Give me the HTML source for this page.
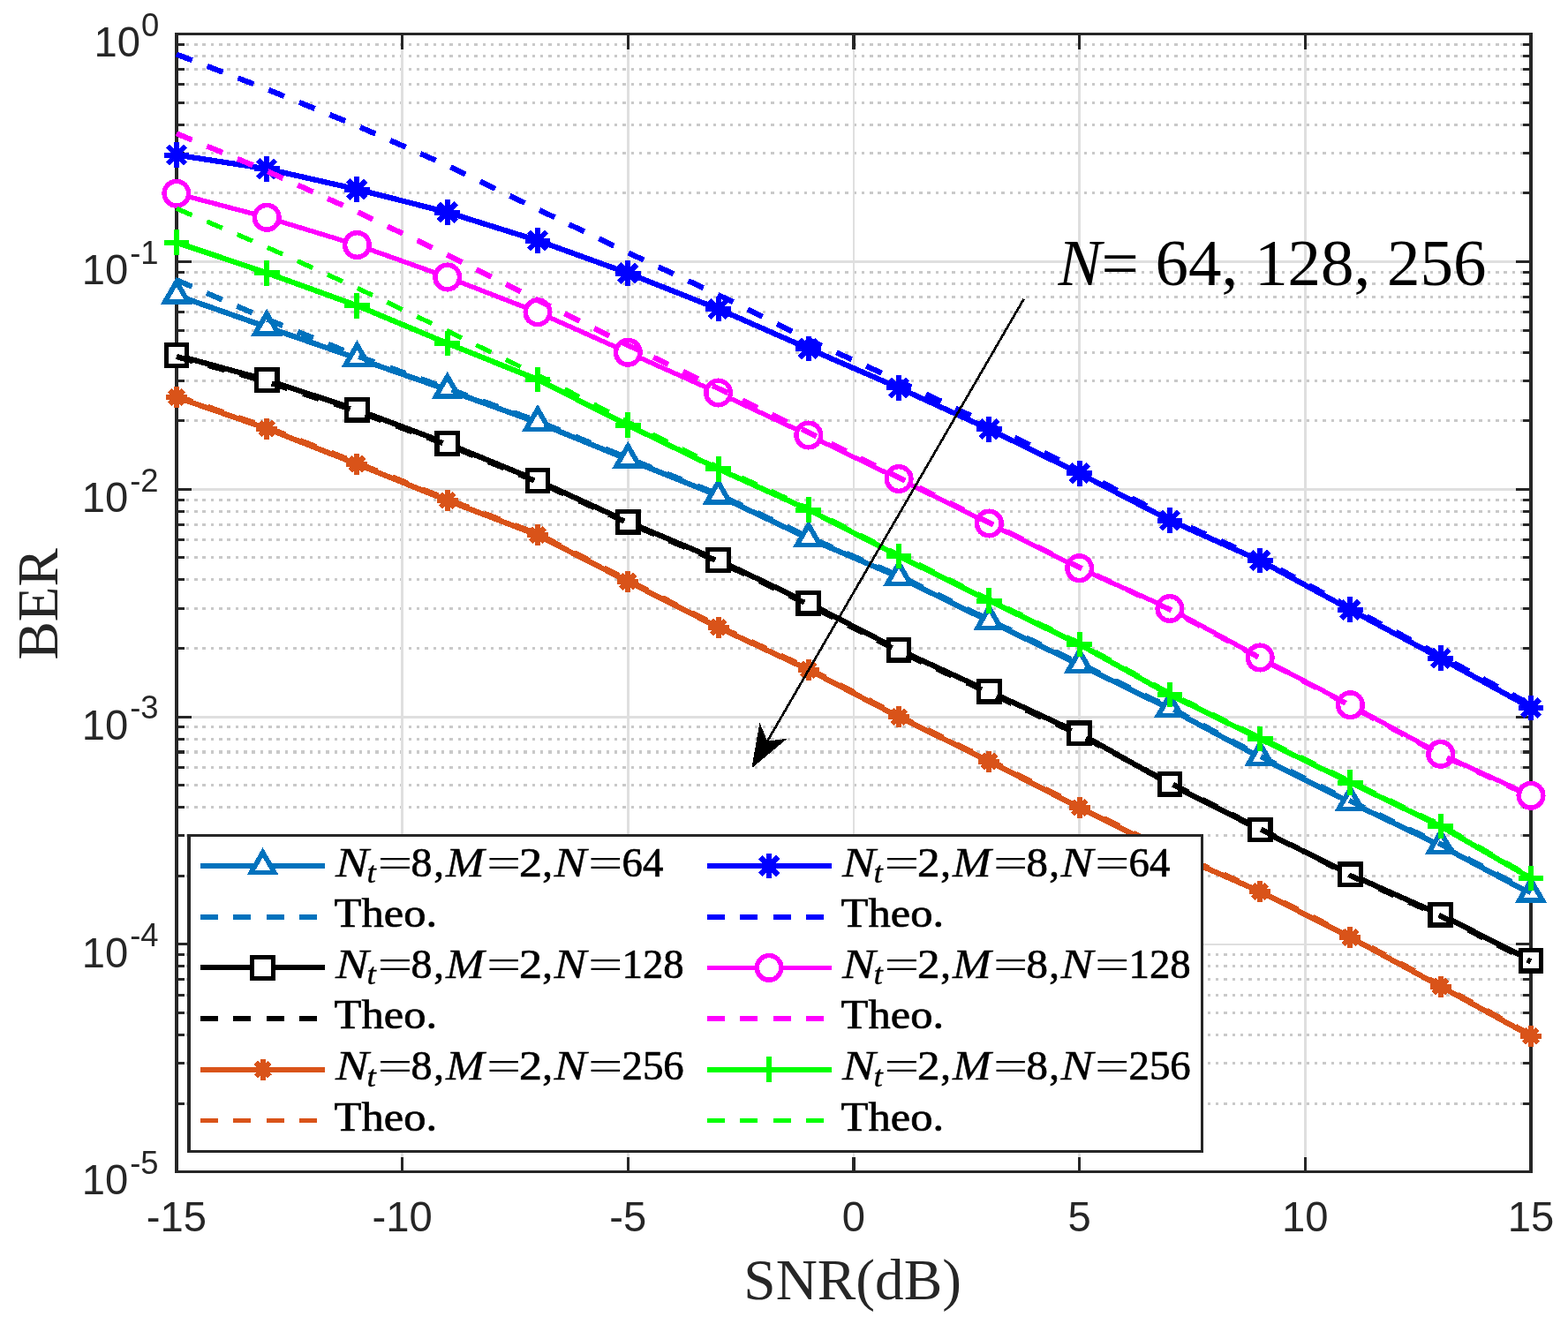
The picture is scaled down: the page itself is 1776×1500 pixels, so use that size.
<!DOCTYPE html>
<html lang="en"><head><meta charset="utf-8"><title>BER versus SNR</title>
<style>html,body{margin:0;padding:0;background:#fff}body{width:1776px;height:1500px;overflow:hidden}svg{display:block}</style>
</head><body>
<svg width="1776" height="1500" viewBox="0 0 1776 1500" shape-rendering="crispEdges">
<rect width="1776" height="1500" fill="#fff"/>
<path d="M199.9 218.89H1734M199.9 173.5H1734M199.9 141.29H1734M199.9 116.31H1734M199.9 95.89H1734M199.9 78.63H1734M199.9 63.68H1734M199.9 50.5H1734M199.9 476.69H1734M199.9 431.3H1734M199.9 399.09H1734M199.9 374.11H1734M199.9 353.69H1734M199.9 336.43H1734M199.9 321.48H1734M199.9 308.3H1734M199.9 734.49H1734M199.9 689.1H1734M199.9 656.89H1734M199.9 631.91H1734M199.9 611.49H1734M199.9 594.23H1734M199.9 579.28H1734M199.9 566.1H1734M199.9 992.29H1734M199.9 946.9H1734M199.9 914.69H1734M199.9 889.71H1734M199.9 869.29H1734M199.9 852.03H1734M199.9 837.08H1734M199.9 823.9H1734M199.9 1250.09H1734M199.9 1204.7H1734M199.9 1172.49H1734M199.9 1147.51H1734M199.9 1127.09H1734M199.9 1109.83H1734M199.9 1094.88H1734M199.9 1081.7H1734" stroke="#C9C9C9" stroke-width="3.1" stroke-dasharray="3.4 5.929" stroke-dashoffset="-1.6" fill="none"/>
<path d="M199.9 296.5H1734M199.9 554.3H1734M199.9 812.1H1734M199.9 1069.9H1734M455.58 38.7V1327.7M711.27 38.7V1327.7M966.95 38.7V1327.7M1222.63 38.7V1327.7M1478.32 38.7V1327.7" stroke="#DFDFDF" stroke-width="2.8" fill="none"/>
<path d="M455.58 1327.7v-17M455.58 38.7v17M711.27 1327.7v-17M711.27 38.7v17M966.95 1327.7v-17M966.95 38.7v17M1222.63 1327.7v-17M1222.63 38.7v17M1478.32 1327.7v-17M1478.32 38.7v17M199.9 296.5h17M1734 296.5h-17M199.9 554.3h17M1734 554.3h-17M199.9 812.1h17M1734 812.1h-17M199.9 1069.9h17M1734 1069.9h-17M199.9 218.89h9M1734 218.89h-9M199.9 173.5h9M1734 173.5h-9M199.9 141.29h9M1734 141.29h-9M199.9 116.31h9M1734 116.31h-9M199.9 95.89h9M1734 95.89h-9M199.9 78.63h9M1734 78.63h-9M199.9 63.68h9M1734 63.68h-9M199.9 50.5h9M1734 50.5h-9M199.9 476.69h9M1734 476.69h-9M199.9 431.3h9M1734 431.3h-9M199.9 399.09h9M1734 399.09h-9M199.9 374.11h9M1734 374.11h-9M199.9 353.69h9M1734 353.69h-9M199.9 336.43h9M1734 336.43h-9M199.9 321.48h9M1734 321.48h-9M199.9 308.3h9M1734 308.3h-9M199.9 734.49h9M1734 734.49h-9M199.9 689.1h9M1734 689.1h-9M199.9 656.89h9M1734 656.89h-9M199.9 631.91h9M1734 631.91h-9M199.9 611.49h9M1734 611.49h-9M199.9 594.23h9M1734 594.23h-9M199.9 579.28h9M1734 579.28h-9M199.9 566.1h9M1734 566.1h-9M199.9 992.29h9M1734 992.29h-9M199.9 946.9h9M1734 946.9h-9M199.9 914.69h9M1734 914.69h-9M199.9 889.71h9M1734 889.71h-9M199.9 869.29h9M1734 869.29h-9M199.9 852.03h9M1734 852.03h-9M199.9 837.08h9M1734 837.08h-9M199.9 823.9h9M1734 823.9h-9M199.9 1250.09h9M1734 1250.09h-9M199.9 1204.7h9M1734 1204.7h-9M199.9 1172.49h9M1734 1172.49h-9M199.9 1147.51h9M1734 1147.51h-9M199.9 1127.09h9M1734 1127.09h-9M199.9 1109.83h9M1734 1109.83h-9M199.9 1094.88h9M1734 1094.88h-9M199.9 1081.7h9M1734 1081.7h-9" stroke="#262626" stroke-width="3.1" fill="none"/>
<path d="M198 38.7H1735.9M198 1327.7H1735.9" fill="none" stroke="#262626" stroke-width="3.4"/>
<path d="M199.9 38.7V1327.7M1734 38.7V1327.7" fill="none" stroke="#262626" stroke-width="3.8"/>
<polyline points="199.9,334.5 302.17,370.5 404.45,406 506.72,441.7 608.99,478.75 711.27,520.5 813.54,561.5 915.81,610 1018.09,653.75 1120.36,703.75 1222.63,753 1324.91,803 1427.18,858 1529.45,909 1631.73,958 1734,1012.5" fill="none" stroke="#0072BD" stroke-width="6.2" stroke-linejoin="round"/>
<polygon points="199.9,319.26 186.7,342.12 213.1,342.12" fill="#fff" stroke="#0072BD" stroke-width="5.7" stroke-linejoin="miter"/><polygon points="302.17,355.26 288.97,378.12 315.37,378.12" fill="#fff" stroke="#0072BD" stroke-width="5.7" stroke-linejoin="miter"/><polygon points="404.45,390.76 391.25,413.62 417.65,413.62" fill="#fff" stroke="#0072BD" stroke-width="5.7" stroke-linejoin="miter"/><polygon points="506.72,426.46 493.52,449.32 519.92,449.32" fill="#fff" stroke="#0072BD" stroke-width="5.7" stroke-linejoin="miter"/><polygon points="608.99,463.51 595.79,486.37 622.19,486.37" fill="#fff" stroke="#0072BD" stroke-width="5.7" stroke-linejoin="miter"/><polygon points="711.27,505.26 698.07,528.12 724.47,528.12" fill="#fff" stroke="#0072BD" stroke-width="5.7" stroke-linejoin="miter"/><polygon points="813.54,546.26 800.34,569.12 826.74,569.12" fill="#fff" stroke="#0072BD" stroke-width="5.7" stroke-linejoin="miter"/><polygon points="915.81,594.76 902.61,617.62 929.01,617.62" fill="#fff" stroke="#0072BD" stroke-width="5.7" stroke-linejoin="miter"/><polygon points="1018.09,638.51 1004.89,661.37 1031.29,661.37" fill="#fff" stroke="#0072BD" stroke-width="5.7" stroke-linejoin="miter"/><polygon points="1120.36,688.51 1107.16,711.37 1133.56,711.37" fill="#fff" stroke="#0072BD" stroke-width="5.7" stroke-linejoin="miter"/><polygon points="1222.63,737.76 1209.43,760.62 1235.83,760.62" fill="#fff" stroke="#0072BD" stroke-width="5.7" stroke-linejoin="miter"/><polygon points="1324.91,787.76 1311.71,810.62 1338.11,810.62" fill="#fff" stroke="#0072BD" stroke-width="5.7" stroke-linejoin="miter"/><polygon points="1427.18,842.76 1413.98,865.62 1440.38,865.62" fill="#fff" stroke="#0072BD" stroke-width="5.7" stroke-linejoin="miter"/><polygon points="1529.45,893.76 1516.25,916.62 1542.65,916.62" fill="#fff" stroke="#0072BD" stroke-width="5.7" stroke-linejoin="miter"/><polygon points="1631.73,942.76 1618.53,965.62 1644.93,965.62" fill="#fff" stroke="#0072BD" stroke-width="5.7" stroke-linejoin="miter"/><polygon points="1734,997.26 1720.8,1020.12 1747.2,1020.12" fill="#fff" stroke="#0072BD" stroke-width="5.7" stroke-linejoin="miter"/>
<polyline points="199.9,317.2 302.17,361.5 404.45,403.2 506.72,440 608.99,477.25 711.27,519 813.54,560 915.81,608.5 1018.09,652.25 1120.36,702.25 1222.63,751.5 1324.91,801.5 1427.18,856.5 1529.45,907.5 1631.73,956.5 1734,1011" fill="none" stroke="#0072BD" stroke-width="6.2" stroke-dasharray="19.1 18.2" stroke-linejoin="round"/>
<polyline points="199.9,402.5 302.17,430.5 404.45,464.25 506.72,502.5 608.99,544.5 711.27,591.25 813.54,634.5 915.81,683.25 1018.09,736.25 1120.36,783.25 1222.63,830.75 1324.91,888.25 1427.18,940 1529.45,990.75 1631.73,1036.25 1734,1088.25" fill="none" stroke="#000000" stroke-width="6.2" stroke-linejoin="round"/>
<rect x="188.1" y="390.7" width="23.6" height="23.6" fill="#fff" stroke="#000000" stroke-width="5.2"/><rect x="290.37" y="418.7" width="23.6" height="23.6" fill="#fff" stroke="#000000" stroke-width="5.2"/><rect x="392.65" y="452.45" width="23.6" height="23.6" fill="#fff" stroke="#000000" stroke-width="5.2"/><rect x="494.92" y="490.7" width="23.6" height="23.6" fill="#fff" stroke="#000000" stroke-width="5.2"/><rect x="597.19" y="532.7" width="23.6" height="23.6" fill="#fff" stroke="#000000" stroke-width="5.2"/><rect x="699.47" y="579.45" width="23.6" height="23.6" fill="#fff" stroke="#000000" stroke-width="5.2"/><rect x="801.74" y="622.7" width="23.6" height="23.6" fill="#fff" stroke="#000000" stroke-width="5.2"/><rect x="904.01" y="671.45" width="23.6" height="23.6" fill="#fff" stroke="#000000" stroke-width="5.2"/><rect x="1006.29" y="724.45" width="23.6" height="23.6" fill="#fff" stroke="#000000" stroke-width="5.2"/><rect x="1108.56" y="771.45" width="23.6" height="23.6" fill="#fff" stroke="#000000" stroke-width="5.2"/><rect x="1210.83" y="818.95" width="23.6" height="23.6" fill="#fff" stroke="#000000" stroke-width="5.2"/><rect x="1313.11" y="876.45" width="23.6" height="23.6" fill="#fff" stroke="#000000" stroke-width="5.2"/><rect x="1415.38" y="928.2" width="23.6" height="23.6" fill="#fff" stroke="#000000" stroke-width="5.2"/><rect x="1517.65" y="978.95" width="23.6" height="23.6" fill="#fff" stroke="#000000" stroke-width="5.2"/><rect x="1619.93" y="1024.45" width="23.6" height="23.6" fill="#fff" stroke="#000000" stroke-width="5.2"/><rect x="1722.2" y="1076.45" width="23.6" height="23.6" fill="#fff" stroke="#000000" stroke-width="5.2"/>
<polyline points="199.9,404 302.17,432.5 404.45,466 506.72,504 608.99,546 711.27,592.5 813.54,636 915.81,685 1018.09,738 1120.36,785 1222.63,832.5 1324.91,887 1427.18,939 1529.45,992 1631.73,1038 1734,1089.5" fill="none" stroke="#000000" stroke-width="6.2" stroke-dasharray="19.1 18.2" stroke-linejoin="round"/>
<polyline points="199.9,450 302.17,485.5 404.45,525.75 506.72,567 608.99,606.25 711.27,658.75 813.54,710.75 915.81,758.75 1018.09,812.25 1120.36,862.5 1222.63,915 1324.91,965.5 1427.18,1010 1529.45,1062 1631.73,1117.5 1734,1173.75" fill="none" stroke="#D95319" stroke-width="6.2" stroke-linejoin="round"/>
<path d="M187.9 450H211.9M199.9 438V462M192.09 442.19L207.71 457.81M192.09 457.81L207.71 442.19" fill="none" stroke="#D95319" stroke-width="6"/><path d="M290.17 485.5H314.17M302.17 473.5V497.5M294.37 477.69L309.98 493.31M294.37 493.31L309.98 477.69" fill="none" stroke="#D95319" stroke-width="6"/><path d="M392.45 525.75H416.45M404.45 513.75V537.75M396.64 517.94L412.25 533.56M396.64 533.56L412.25 517.94" fill="none" stroke="#D95319" stroke-width="6"/><path d="M494.72 567H518.72M506.72 555V579M498.91 559.19L514.53 574.81M498.91 574.81L514.53 559.19" fill="none" stroke="#D95319" stroke-width="6"/><path d="M596.99 606.25H620.99M608.99 594.25V618.25M601.19 598.44L616.8 614.06M601.19 614.06L616.8 598.44" fill="none" stroke="#D95319" stroke-width="6"/><path d="M699.27 658.75H723.27M711.27 646.75V670.75M703.46 650.94L719.07 666.56M703.46 666.56L719.07 650.94" fill="none" stroke="#D95319" stroke-width="6"/><path d="M801.54 710.75H825.54M813.54 698.75V722.75M805.73 702.94L821.35 718.56M805.73 718.56L821.35 702.94" fill="none" stroke="#D95319" stroke-width="6"/><path d="M903.81 758.75H927.81M915.81 746.75V770.75M908.01 750.94L923.62 766.56M908.01 766.56L923.62 750.94" fill="none" stroke="#D95319" stroke-width="6"/><path d="M1006.09 812.25H1030.09M1018.09 800.25V824.25M1010.28 804.44L1025.89 820.06M1010.28 820.06L1025.89 804.44" fill="none" stroke="#D95319" stroke-width="6"/><path d="M1108.36 862.5H1132.36M1120.36 850.5V874.5M1112.55 854.69L1128.17 870.31M1112.55 870.31L1128.17 854.69" fill="none" stroke="#D95319" stroke-width="6"/><path d="M1210.63 915H1234.63M1222.63 903V927M1214.83 907.19L1230.44 922.81M1214.83 922.81L1230.44 907.19" fill="none" stroke="#D95319" stroke-width="6"/><path d="M1312.91 965.5H1336.91M1324.91 953.5V977.5M1317.1 957.69L1332.71 973.31M1317.1 973.31L1332.71 957.69" fill="none" stroke="#D95319" stroke-width="6"/><path d="M1415.18 1010H1439.18M1427.18 998V1022M1419.37 1002.19L1434.99 1017.81M1419.37 1017.81L1434.99 1002.19" fill="none" stroke="#D95319" stroke-width="6"/><path d="M1517.45 1062H1541.45M1529.45 1050V1074M1521.65 1054.19L1537.26 1069.81M1521.65 1069.81L1537.26 1054.19" fill="none" stroke="#D95319" stroke-width="6"/><path d="M1619.73 1117.5H1643.73M1631.73 1105.5V1129.5M1623.92 1109.69L1639.53 1125.31M1623.92 1125.31L1639.53 1109.69" fill="none" stroke="#D95319" stroke-width="6"/><path d="M1722 1173.75H1746M1734 1161.75V1185.75M1726.19 1165.94L1741.81 1181.56M1726.19 1181.56L1741.81 1165.94" fill="none" stroke="#D95319" stroke-width="6"/>
<polyline points="199.9,448.2 302.17,483.7 404.45,523.95 506.72,565.2 608.99,604.45 711.27,656.95 813.54,708.95 915.81,756.95 1018.09,810.45 1120.36,860.7 1222.63,913.2 1324.91,963.7 1427.18,1008.2 1529.45,1060.2 1631.73,1115.7 1734,1171.95" fill="none" stroke="#D95319" stroke-width="5.3" stroke-dasharray="19.1 18.2" stroke-linejoin="round"/>
<polyline points="199.9,175.5 302.17,191.3 404.45,214.5 506.72,240.5 608.99,272.5 711.27,309.5 813.54,350 915.81,395 1018.09,439.4 1120.36,486.25 1222.63,536.25 1324.91,589.5 1427.18,635 1529.45,690.75 1631.73,745.75 1734,802" fill="none" stroke="#0000FF" stroke-width="6.2" stroke-linejoin="round"/>
<path d="M185.5 175.5H214.3M199.9 161.1V189.9M189.92 165.52L209.88 185.48M189.92 185.48L209.88 165.52" fill="none" stroke="#0000FF" stroke-width="6"/><path d="M287.77 191.3H316.57M302.17 176.9V205.7M292.19 181.32L312.15 201.28M292.19 201.28L312.15 181.32" fill="none" stroke="#0000FF" stroke-width="6"/><path d="M390.05 214.5H418.85M404.45 200.1V228.9M394.47 204.52L414.43 224.48M394.47 224.48L414.43 204.52" fill="none" stroke="#0000FF" stroke-width="6"/><path d="M492.32 240.5H521.12M506.72 226.1V254.9M496.74 230.52L516.7 250.48M496.74 250.48L516.7 230.52" fill="none" stroke="#0000FF" stroke-width="6"/><path d="M594.59 272.5H623.39M608.99 258.1V286.9M599.01 262.52L618.97 282.48M599.01 282.48L618.97 262.52" fill="none" stroke="#0000FF" stroke-width="6"/><path d="M696.87 309.5H725.67M711.27 295.1V323.9M701.29 299.52L721.25 319.48M701.29 319.48L721.25 299.52" fill="none" stroke="#0000FF" stroke-width="6"/><path d="M799.14 350H827.94M813.54 335.6V364.4M803.56 340.02L823.52 359.98M803.56 359.98L823.52 340.02" fill="none" stroke="#0000FF" stroke-width="6"/><path d="M901.41 395H930.21M915.81 380.6V409.4M905.83 385.02L925.79 404.98M905.83 404.98L925.79 385.02" fill="none" stroke="#0000FF" stroke-width="6"/><path d="M1003.69 439.4H1032.49M1018.09 425V453.8M1008.11 429.42L1028.07 449.38M1008.11 449.38L1028.07 429.42" fill="none" stroke="#0000FF" stroke-width="6"/><path d="M1105.96 486.25H1134.76M1120.36 471.85V500.65M1110.38 476.27L1130.34 496.23M1110.38 496.23L1130.34 476.27" fill="none" stroke="#0000FF" stroke-width="6"/><path d="M1208.23 536.25H1237.03M1222.63 521.85V550.65M1212.65 526.27L1232.61 546.23M1212.65 546.23L1232.61 526.27" fill="none" stroke="#0000FF" stroke-width="6"/><path d="M1310.51 589.5H1339.31M1324.91 575.1V603.9M1314.93 579.52L1334.89 599.48M1314.93 599.48L1334.89 579.52" fill="none" stroke="#0000FF" stroke-width="6"/><path d="M1412.78 635H1441.58M1427.18 620.6V649.4M1417.2 625.02L1437.16 644.98M1417.2 644.98L1437.16 625.02" fill="none" stroke="#0000FF" stroke-width="6"/><path d="M1515.05 690.75H1543.85M1529.45 676.35V705.15M1519.47 680.77L1539.43 700.73M1519.47 700.73L1539.43 680.77" fill="none" stroke="#0000FF" stroke-width="6"/><path d="M1617.33 745.75H1646.13M1631.73 731.35V760.15M1621.75 735.77L1641.71 755.73M1621.75 755.73L1641.71 735.77" fill="none" stroke="#0000FF" stroke-width="6"/><path d="M1719.6 802H1748.4M1734 787.6V816.4M1724.02 792.02L1743.98 811.98M1724.02 811.98L1743.98 792.02" fill="none" stroke="#0000FF" stroke-width="6"/>
<polyline points="199.9,61.5 302.17,101 404.45,142.5 506.72,187.5 608.99,237 711.27,286.25 813.54,334 915.81,385 1018.09,431.5 1120.36,481 1222.63,533 1324.91,587 1427.18,633 1529.45,688.5 1631.73,743 1734,798.5" fill="none" stroke="#0000FF" stroke-width="6.2" stroke-dasharray="19.1 18.2" stroke-linejoin="round"/>
<polyline points="199.9,219.2 302.17,246.3 404.45,277.5 506.72,314 608.99,353.75 711.27,399.25 813.54,445 915.81,493 1018.09,542.5 1120.36,593 1222.63,643.75 1324.91,689.5 1427.18,745 1529.45,798.75 1631.73,854.25 1734,901.25" fill="none" stroke="#FF00FF" stroke-width="5.4" stroke-linejoin="round"/>
<circle cx="199.9" cy="219.2" r="13.8" fill="#fff" stroke="#FF00FF" stroke-width="5.5"/><circle cx="302.17" cy="246.3" r="13.8" fill="#fff" stroke="#FF00FF" stroke-width="5.5"/><circle cx="404.45" cy="277.5" r="13.8" fill="#fff" stroke="#FF00FF" stroke-width="5.5"/><circle cx="506.72" cy="314" r="13.8" fill="#fff" stroke="#FF00FF" stroke-width="5.5"/><circle cx="608.99" cy="353.75" r="13.8" fill="#fff" stroke="#FF00FF" stroke-width="5.5"/><circle cx="711.27" cy="399.25" r="13.8" fill="#fff" stroke="#FF00FF" stroke-width="5.5"/><circle cx="813.54" cy="445" r="13.8" fill="#fff" stroke="#FF00FF" stroke-width="5.5"/><circle cx="915.81" cy="493" r="13.8" fill="#fff" stroke="#FF00FF" stroke-width="5.5"/><circle cx="1018.09" cy="542.5" r="13.8" fill="#fff" stroke="#FF00FF" stroke-width="5.5"/><circle cx="1120.36" cy="593" r="13.8" fill="#fff" stroke="#FF00FF" stroke-width="5.5"/><circle cx="1222.63" cy="643.75" r="13.8" fill="#fff" stroke="#FF00FF" stroke-width="5.5"/><circle cx="1324.91" cy="689.5" r="13.8" fill="#fff" stroke="#FF00FF" stroke-width="5.5"/><circle cx="1427.18" cy="745" r="13.8" fill="#fff" stroke="#FF00FF" stroke-width="5.5"/><circle cx="1529.45" cy="798.75" r="13.8" fill="#fff" stroke="#FF00FF" stroke-width="5.5"/><circle cx="1631.73" cy="854.25" r="13.8" fill="#fff" stroke="#FF00FF" stroke-width="5.5"/><circle cx="1734" cy="901.25" r="13.8" fill="#fff" stroke="#FF00FF" stroke-width="5.5"/>
<polyline points="199.9,151.25 302.17,193.75 404.45,240 506.72,288.75 608.99,340 711.27,391 813.54,440 915.81,490 1018.09,541 1120.36,592 1222.63,643 1324.91,690.5 1427.18,745.5 1529.45,799.5 1631.73,855 1734,902" fill="none" stroke="#FF00FF" stroke-width="6.2" stroke-dasharray="19.1 18.2" stroke-linejoin="round"/>
<polyline points="199.9,274.7 302.17,309.2 404.45,346.25 506.72,389 608.99,430 711.27,481.75 813.54,531.25 915.81,577.5 1018.09,630 1120.36,680.5 1222.63,730 1324.91,787 1427.18,837 1529.45,886.5 1631.73,936 1734,995" fill="none" stroke="#00FF00" stroke-width="6.2" stroke-linejoin="round"/>
<path d="M185.5 274.7H214.3M199.9 260.3V289.1" fill="none" stroke="#00FF00" stroke-width="6"/><path d="M287.77 309.2H316.57M302.17 294.8V323.6" fill="none" stroke="#00FF00" stroke-width="6"/><path d="M390.05 346.25H418.85M404.45 331.85V360.65" fill="none" stroke="#00FF00" stroke-width="6"/><path d="M492.32 389H521.12M506.72 374.6V403.4" fill="none" stroke="#00FF00" stroke-width="6"/><path d="M594.59 430H623.39M608.99 415.6V444.4" fill="none" stroke="#00FF00" stroke-width="6"/><path d="M696.87 481.75H725.67M711.27 467.35V496.15" fill="none" stroke="#00FF00" stroke-width="6"/><path d="M799.14 531.25H827.94M813.54 516.85V545.65" fill="none" stroke="#00FF00" stroke-width="6"/><path d="M901.41 577.5H930.21M915.81 563.1V591.9" fill="none" stroke="#00FF00" stroke-width="6"/><path d="M1003.69 630H1032.49M1018.09 615.6V644.4" fill="none" stroke="#00FF00" stroke-width="6"/><path d="M1105.96 680.5H1134.76M1120.36 666.1V694.9" fill="none" stroke="#00FF00" stroke-width="6"/><path d="M1208.23 730H1237.03M1222.63 715.6V744.4" fill="none" stroke="#00FF00" stroke-width="6"/><path d="M1310.51 787H1339.31M1324.91 772.6V801.4" fill="none" stroke="#00FF00" stroke-width="6"/><path d="M1412.78 837H1441.58M1427.18 822.6V851.4" fill="none" stroke="#00FF00" stroke-width="6"/><path d="M1515.05 886.5H1543.85M1529.45 872.1V900.9" fill="none" stroke="#00FF00" stroke-width="6"/><path d="M1617.33 936H1646.13M1631.73 921.6V950.4" fill="none" stroke="#00FF00" stroke-width="6"/><path d="M1719.6 995H1748.4M1734 980.6V1009.4" fill="none" stroke="#00FF00" stroke-width="6"/>
<polyline points="199.9,236.25 302.17,280 404.45,326.25 506.72,375 608.99,425 711.27,478 813.54,529 915.81,575.9 1018.09,628.4 1120.36,678.9 1222.63,728.4 1324.91,785.4 1427.18,835.4 1529.45,884.9 1631.73,934.4 1734,993.4" fill="none" stroke="#00FF00" stroke-width="5.3" stroke-dasharray="19.1 18.2" stroke-linejoin="round"/>
<rect x="214" y="946.6" width="1147.6" height="357.8" fill="#fff" stroke="#262626" stroke-width="3.4"/>
<path d="M227 981H368" stroke="#0072BD" stroke-width="6" fill="none"/>
<polygon points="297.6,965.76 284.4,988.62 310.8,988.62" fill="#fff" stroke="#0072BD" stroke-width="5.7" stroke-linejoin="miter"/>
<path d="M227 1038.8H368" stroke="#0072BD" stroke-width="6" stroke-dasharray="20 17.4" fill="none"/>
<text font-family="'Liberation Serif',serif" fill="#000"><tspan x="379.92" y="992.5" font-size="46.8" font-style="italic" stroke="#000" stroke-width="0.35" textLength="37.61" lengthAdjust="spacingAndGlyphs">N</tspan><tspan x="415.62" y="999.7" font-size="33.7" font-style="italic" stroke="#000" stroke-width="0.35" textLength="10.34" lengthAdjust="spacingAndGlyphs">t</tspan><tspan x="427.46" y="992.5" font-size="46.8" textLength="39.9" lengthAdjust="spacingAndGlyphs">=</tspan><tspan x="465.6" y="992.5" font-size="46.8" stroke="#000" stroke-width="0.7" textLength="24" lengthAdjust="spacingAndGlyphs">8</tspan><tspan x="491.25" y="992.5" font-size="46.8" stroke="#000" stroke-width="0.7" textLength="11.67" lengthAdjust="spacingAndGlyphs">,</tspan><tspan x="504.95" y="992.5" font-size="46.8" font-style="italic" stroke="#000" stroke-width="0.35" textLength="43.62" lengthAdjust="spacingAndGlyphs">M</tspan><tspan x="550.92" y="992.5" font-size="46.8" textLength="39.3" lengthAdjust="spacingAndGlyphs">=</tspan><tspan x="588.06" y="992.5" font-size="46.8" stroke="#000" stroke-width="0.7" textLength="26" lengthAdjust="spacingAndGlyphs">2</tspan><tspan x="614.15" y="992.5" font-size="46.8" stroke="#000" stroke-width="0.7" textLength="11.67" lengthAdjust="spacingAndGlyphs">,</tspan><tspan x="627.41" y="992.5" font-size="46.8" font-style="italic" stroke="#000" stroke-width="0.35" textLength="36.87" lengthAdjust="spacingAndGlyphs">N</tspan><tspan x="666.09" y="992.5" font-size="46.8" textLength="39.54" lengthAdjust="spacingAndGlyphs">=</tspan><tspan x="704.5" y="992.5" font-size="46.8" stroke="#000" stroke-width="0.7" textLength="46.8" lengthAdjust="spacingAndGlyphs">64</tspan></text>
<text font-family="'Liberation Serif',serif" fill="#000"><tspan x="378.62" y="1050" font-size="46.8" stroke="#000" stroke-width="0.7" textLength="116.45" lengthAdjust="spacingAndGlyphs">Theo.</tspan></text>
<path d="M227 1096.4H368" stroke="#000000" stroke-width="6" fill="none"/>
<rect x="285.8" y="1084.6" width="23.6" height="23.6" fill="#fff" stroke="#000000" stroke-width="5.2"/>
<path d="M227 1153.9H368" stroke="#000000" stroke-width="6" stroke-dasharray="20 17.4" fill="none"/>
<text font-family="'Liberation Serif',serif" fill="#000"><tspan x="379.92" y="1107.9" font-size="46.8" font-style="italic" stroke="#000" stroke-width="0.35" textLength="37.61" lengthAdjust="spacingAndGlyphs">N</tspan><tspan x="415.62" y="1115.1" font-size="33.7" font-style="italic" stroke="#000" stroke-width="0.35" textLength="10.34" lengthAdjust="spacingAndGlyphs">t</tspan><tspan x="427.46" y="1107.9" font-size="46.8" textLength="39.9" lengthAdjust="spacingAndGlyphs">=</tspan><tspan x="465.6" y="1107.9" font-size="46.8" stroke="#000" stroke-width="0.7" textLength="24" lengthAdjust="spacingAndGlyphs">8</tspan><tspan x="491.25" y="1107.9" font-size="46.8" stroke="#000" stroke-width="0.7" textLength="11.67" lengthAdjust="spacingAndGlyphs">,</tspan><tspan x="504.95" y="1107.9" font-size="46.8" font-style="italic" stroke="#000" stroke-width="0.35" textLength="43.62" lengthAdjust="spacingAndGlyphs">M</tspan><tspan x="550.92" y="1107.9" font-size="46.8" textLength="39.3" lengthAdjust="spacingAndGlyphs">=</tspan><tspan x="588.06" y="1107.9" font-size="46.8" stroke="#000" stroke-width="0.7" textLength="26" lengthAdjust="spacingAndGlyphs">2</tspan><tspan x="614.15" y="1107.9" font-size="46.8" stroke="#000" stroke-width="0.7" textLength="11.67" lengthAdjust="spacingAndGlyphs">,</tspan><tspan x="627.41" y="1107.9" font-size="46.8" font-style="italic" stroke="#000" stroke-width="0.35" textLength="36.87" lengthAdjust="spacingAndGlyphs">N</tspan><tspan x="666.09" y="1107.9" font-size="46.8" textLength="39.54" lengthAdjust="spacingAndGlyphs">=</tspan><tspan x="704.5" y="1107.9" font-size="46.8" stroke="#000" stroke-width="0.7" textLength="70.2" lengthAdjust="spacingAndGlyphs">128</tspan></text>
<text font-family="'Liberation Serif',serif" fill="#000"><tspan x="378.62" y="1165.1" font-size="46.8" stroke="#000" stroke-width="0.7" textLength="116.45" lengthAdjust="spacingAndGlyphs">Theo.</tspan></text>
<path d="M227 1211.8H368" stroke="#D95319" stroke-width="6" fill="none"/>
<path d="M285.6 1211.8H309.6M297.6 1199.8V1223.8M289.79 1203.99L305.41 1219.61M289.79 1219.61L305.41 1203.99" fill="none" stroke="#D95319" stroke-width="6"/>
<path d="M227 1269.4H368" stroke="#D95319" stroke-width="5" stroke-dasharray="20 17.4" fill="none"/>
<text font-family="'Liberation Serif',serif" fill="#000"><tspan x="379.92" y="1223.3" font-size="46.8" font-style="italic" stroke="#000" stroke-width="0.35" textLength="37.61" lengthAdjust="spacingAndGlyphs">N</tspan><tspan x="415.62" y="1230.5" font-size="33.7" font-style="italic" stroke="#000" stroke-width="0.35" textLength="10.34" lengthAdjust="spacingAndGlyphs">t</tspan><tspan x="427.46" y="1223.3" font-size="46.8" textLength="39.9" lengthAdjust="spacingAndGlyphs">=</tspan><tspan x="465.6" y="1223.3" font-size="46.8" stroke="#000" stroke-width="0.7" textLength="24" lengthAdjust="spacingAndGlyphs">8</tspan><tspan x="491.25" y="1223.3" font-size="46.8" stroke="#000" stroke-width="0.7" textLength="11.67" lengthAdjust="spacingAndGlyphs">,</tspan><tspan x="504.95" y="1223.3" font-size="46.8" font-style="italic" stroke="#000" stroke-width="0.35" textLength="43.62" lengthAdjust="spacingAndGlyphs">M</tspan><tspan x="550.92" y="1223.3" font-size="46.8" textLength="39.3" lengthAdjust="spacingAndGlyphs">=</tspan><tspan x="588.06" y="1223.3" font-size="46.8" stroke="#000" stroke-width="0.7" textLength="26" lengthAdjust="spacingAndGlyphs">2</tspan><tspan x="614.15" y="1223.3" font-size="46.8" stroke="#000" stroke-width="0.7" textLength="11.67" lengthAdjust="spacingAndGlyphs">,</tspan><tspan x="627.41" y="1223.3" font-size="46.8" font-style="italic" stroke="#000" stroke-width="0.35" textLength="36.87" lengthAdjust="spacingAndGlyphs">N</tspan><tspan x="666.09" y="1223.3" font-size="46.8" textLength="39.54" lengthAdjust="spacingAndGlyphs">=</tspan><tspan x="704.5" y="1223.3" font-size="46.8" stroke="#000" stroke-width="0.7" textLength="70.2" lengthAdjust="spacingAndGlyphs">256</tspan></text>
<text font-family="'Liberation Serif',serif" fill="#000"><tspan x="378.62" y="1280.6" font-size="46.8" stroke="#000" stroke-width="0.7" textLength="116.45" lengthAdjust="spacingAndGlyphs">Theo.</tspan></text>
<path d="M801 981H942" stroke="#0000FF" stroke-width="6" fill="none"/>
<path d="M856.7 981H885.5M871.1 966.6V995.4M861.12 971.02L881.08 990.98M861.12 990.98L881.08 971.02" fill="none" stroke="#0000FF" stroke-width="6"/>
<path d="M801 1038.8H942" stroke="#0000FF" stroke-width="6" stroke-dasharray="20 17.4" fill="none"/>
<text font-family="'Liberation Serif',serif" fill="#000"><tspan x="953.92" y="992.5" font-size="46.8" font-style="italic" stroke="#000" stroke-width="0.35" textLength="37.61" lengthAdjust="spacingAndGlyphs">N</tspan><tspan x="989.62" y="999.7" font-size="33.7" font-style="italic" stroke="#000" stroke-width="0.35" textLength="10.34" lengthAdjust="spacingAndGlyphs">t</tspan><tspan x="1001.46" y="992.5" font-size="46.8" textLength="39.9" lengthAdjust="spacingAndGlyphs">=</tspan><tspan x="1039.11" y="992.5" font-size="46.8" stroke="#000" stroke-width="0.7" textLength="25.5" lengthAdjust="spacingAndGlyphs">2</tspan><tspan x="1065.25" y="992.5" font-size="46.8" stroke="#000" stroke-width="0.7" textLength="11.67" lengthAdjust="spacingAndGlyphs">,</tspan><tspan x="1078.95" y="992.5" font-size="46.8" font-style="italic" stroke="#000" stroke-width="0.35" textLength="43.62" lengthAdjust="spacingAndGlyphs">M</tspan><tspan x="1124.92" y="992.5" font-size="46.8" textLength="39.3" lengthAdjust="spacingAndGlyphs">=</tspan><tspan x="1162.56" y="992.5" font-size="46.8" stroke="#000" stroke-width="0.7" textLength="24.47" lengthAdjust="spacingAndGlyphs">8</tspan><tspan x="1188.15" y="992.5" font-size="46.8" stroke="#000" stroke-width="0.7" textLength="11.67" lengthAdjust="spacingAndGlyphs">,</tspan><tspan x="1201.41" y="992.5" font-size="46.8" font-style="italic" stroke="#000" stroke-width="0.35" textLength="36.87" lengthAdjust="spacingAndGlyphs">N</tspan><tspan x="1240.09" y="992.5" font-size="46.8" textLength="39.54" lengthAdjust="spacingAndGlyphs">=</tspan><tspan x="1278.5" y="992.5" font-size="46.8" stroke="#000" stroke-width="0.7" textLength="46.8" lengthAdjust="spacingAndGlyphs">64</tspan></text>
<text font-family="'Liberation Serif',serif" fill="#000"><tspan x="952.62" y="1050" font-size="46.8" stroke="#000" stroke-width="0.7" textLength="116.45" lengthAdjust="spacingAndGlyphs">Theo.</tspan></text>
<path d="M801 1096.4H942" stroke="#FF00FF" stroke-width="5" fill="none"/>
<circle cx="871.1" cy="1096.4" r="13.8" fill="#fff" stroke="#FF00FF" stroke-width="5.5"/>
<path d="M801 1153.9H942" stroke="#FF00FF" stroke-width="6" stroke-dasharray="20 17.4" fill="none"/>
<text font-family="'Liberation Serif',serif" fill="#000"><tspan x="953.92" y="1107.9" font-size="46.8" font-style="italic" stroke="#000" stroke-width="0.35" textLength="37.61" lengthAdjust="spacingAndGlyphs">N</tspan><tspan x="989.62" y="1115.1" font-size="33.7" font-style="italic" stroke="#000" stroke-width="0.35" textLength="10.34" lengthAdjust="spacingAndGlyphs">t</tspan><tspan x="1001.46" y="1107.9" font-size="46.8" textLength="39.9" lengthAdjust="spacingAndGlyphs">=</tspan><tspan x="1039.11" y="1107.9" font-size="46.8" stroke="#000" stroke-width="0.7" textLength="25.5" lengthAdjust="spacingAndGlyphs">2</tspan><tspan x="1065.25" y="1107.9" font-size="46.8" stroke="#000" stroke-width="0.7" textLength="11.67" lengthAdjust="spacingAndGlyphs">,</tspan><tspan x="1078.95" y="1107.9" font-size="46.8" font-style="italic" stroke="#000" stroke-width="0.35" textLength="43.62" lengthAdjust="spacingAndGlyphs">M</tspan><tspan x="1124.92" y="1107.9" font-size="46.8" textLength="39.3" lengthAdjust="spacingAndGlyphs">=</tspan><tspan x="1162.56" y="1107.9" font-size="46.8" stroke="#000" stroke-width="0.7" textLength="24.47" lengthAdjust="spacingAndGlyphs">8</tspan><tspan x="1188.15" y="1107.9" font-size="46.8" stroke="#000" stroke-width="0.7" textLength="11.67" lengthAdjust="spacingAndGlyphs">,</tspan><tspan x="1201.41" y="1107.9" font-size="46.8" font-style="italic" stroke="#000" stroke-width="0.35" textLength="36.87" lengthAdjust="spacingAndGlyphs">N</tspan><tspan x="1240.09" y="1107.9" font-size="46.8" textLength="39.54" lengthAdjust="spacingAndGlyphs">=</tspan><tspan x="1278.5" y="1107.9" font-size="46.8" stroke="#000" stroke-width="0.7" textLength="70.2" lengthAdjust="spacingAndGlyphs">128</tspan></text>
<text font-family="'Liberation Serif',serif" fill="#000"><tspan x="952.62" y="1165.1" font-size="46.8" stroke="#000" stroke-width="0.7" textLength="116.45" lengthAdjust="spacingAndGlyphs">Theo.</tspan></text>
<path d="M801 1211.8H942" stroke="#00FF00" stroke-width="6" fill="none"/>
<path d="M856.7 1211.8H885.5M871.1 1197.4V1226.2" fill="none" stroke="#00FF00" stroke-width="6"/>
<path d="M801 1269.4H942" stroke="#00FF00" stroke-width="5" stroke-dasharray="20 17.4" fill="none"/>
<text font-family="'Liberation Serif',serif" fill="#000"><tspan x="953.92" y="1223.3" font-size="46.8" font-style="italic" stroke="#000" stroke-width="0.35" textLength="37.61" lengthAdjust="spacingAndGlyphs">N</tspan><tspan x="989.62" y="1230.5" font-size="33.7" font-style="italic" stroke="#000" stroke-width="0.35" textLength="10.34" lengthAdjust="spacingAndGlyphs">t</tspan><tspan x="1001.46" y="1223.3" font-size="46.8" textLength="39.9" lengthAdjust="spacingAndGlyphs">=</tspan><tspan x="1039.11" y="1223.3" font-size="46.8" stroke="#000" stroke-width="0.7" textLength="25.5" lengthAdjust="spacingAndGlyphs">2</tspan><tspan x="1065.25" y="1223.3" font-size="46.8" stroke="#000" stroke-width="0.7" textLength="11.67" lengthAdjust="spacingAndGlyphs">,</tspan><tspan x="1078.95" y="1223.3" font-size="46.8" font-style="italic" stroke="#000" stroke-width="0.35" textLength="43.62" lengthAdjust="spacingAndGlyphs">M</tspan><tspan x="1124.92" y="1223.3" font-size="46.8" textLength="39.3" lengthAdjust="spacingAndGlyphs">=</tspan><tspan x="1162.56" y="1223.3" font-size="46.8" stroke="#000" stroke-width="0.7" textLength="24.47" lengthAdjust="spacingAndGlyphs">8</tspan><tspan x="1188.15" y="1223.3" font-size="46.8" stroke="#000" stroke-width="0.7" textLength="11.67" lengthAdjust="spacingAndGlyphs">,</tspan><tspan x="1201.41" y="1223.3" font-size="46.8" font-style="italic" stroke="#000" stroke-width="0.35" textLength="36.87" lengthAdjust="spacingAndGlyphs">N</tspan><tspan x="1240.09" y="1223.3" font-size="46.8" textLength="39.54" lengthAdjust="spacingAndGlyphs">=</tspan><tspan x="1278.5" y="1223.3" font-size="46.8" stroke="#000" stroke-width="0.7" textLength="70.2" lengthAdjust="spacingAndGlyphs">256</tspan></text>
<text font-family="'Liberation Serif',serif" fill="#000"><tspan x="952.62" y="1280.6" font-size="46.8" stroke="#000" stroke-width="0.7" textLength="116.45" lengthAdjust="spacingAndGlyphs">Theo.</tspan></text>
<path d="M1159.6 338.8L869.21 839.59" stroke="#000" stroke-width="2.7" fill="none"/>
<polygon points="851.4,870.3 860.42,818.66 869.21,839.59 891.74,836.82" fill="#000"/>
<text font-family="'Liberation Serif',serif" fill="#000" xml:space="preserve"><tspan x="1198.55" y="322.7" font-size="75" font-style="italic" textLength="49.1" lengthAdjust="spacingAndGlyphs">N</tspan><tspan x="1247.4" y="322.7" font-size="75">= 64, 128, 256</tspan></text>
<text x="199.9" y="1395.3" text-anchor="middle" font-family="'Liberation Sans',sans-serif" font-size="47.2" fill="#262626">-15</text>
<text x="455.58" y="1395.3" text-anchor="middle" font-family="'Liberation Sans',sans-serif" font-size="47.2" fill="#262626">-10</text>
<text x="711.27" y="1395.3" text-anchor="middle" font-family="'Liberation Sans',sans-serif" font-size="47.2" fill="#262626">-5</text>
<text x="966.95" y="1395.3" text-anchor="middle" font-family="'Liberation Sans',sans-serif" font-size="47.2" fill="#262626">0</text>
<text x="1222.63" y="1395.3" text-anchor="middle" font-family="'Liberation Sans',sans-serif" font-size="47.2" fill="#262626">5</text>
<text x="1478.32" y="1395.3" text-anchor="middle" font-family="'Liberation Sans',sans-serif" font-size="47.2" fill="#262626">10</text>
<text x="1734" y="1395.3" text-anchor="middle" font-family="'Liberation Sans',sans-serif" font-size="47.2" fill="#262626">15</text>
<text font-family="'Liberation Sans',sans-serif" fill="#262626"><tspan x="106.5" y="64.3" font-size="47.2">10</tspan><tspan x="160.06" y="41" font-size="36.4">0</tspan></text>
<text font-family="'Liberation Sans',sans-serif" fill="#262626"><tspan x="92.7" y="322.1" font-size="47.2">10</tspan><tspan x="147.23" y="298.8" font-size="36.4">-1</tspan></text>
<text font-family="'Liberation Sans',sans-serif" fill="#262626"><tspan x="92.7" y="579.9" font-size="47.2">10</tspan><tspan x="147.23" y="556.6" font-size="36.4">-2</tspan></text>
<text font-family="'Liberation Sans',sans-serif" fill="#262626"><tspan x="92.7" y="837.7" font-size="47.2">10</tspan><tspan x="147.23" y="814.4" font-size="36.4">-3</tspan></text>
<text font-family="'Liberation Sans',sans-serif" fill="#262626"><tspan x="92.7" y="1095.5" font-size="47.2">10</tspan><tspan x="147.23" y="1072.2" font-size="36.4">-4</tspan></text>
<text font-family="'Liberation Sans',sans-serif" fill="#262626"><tspan x="92.7" y="1353.3" font-size="47.2">10</tspan><tspan x="147.23" y="1330" font-size="36.4">-5</tspan></text>
<text x="965.7" y="1471.6" text-anchor="middle" font-family="'Liberation Serif',serif" font-size="65.3" fill="#262626">SNR(dB)</text>
<text transform="translate(64.6 684.3) rotate(-90)" text-anchor="middle" font-family="'Liberation Serif',serif" font-size="65" fill="#262626">BER</text>
</svg>
</body></html>
